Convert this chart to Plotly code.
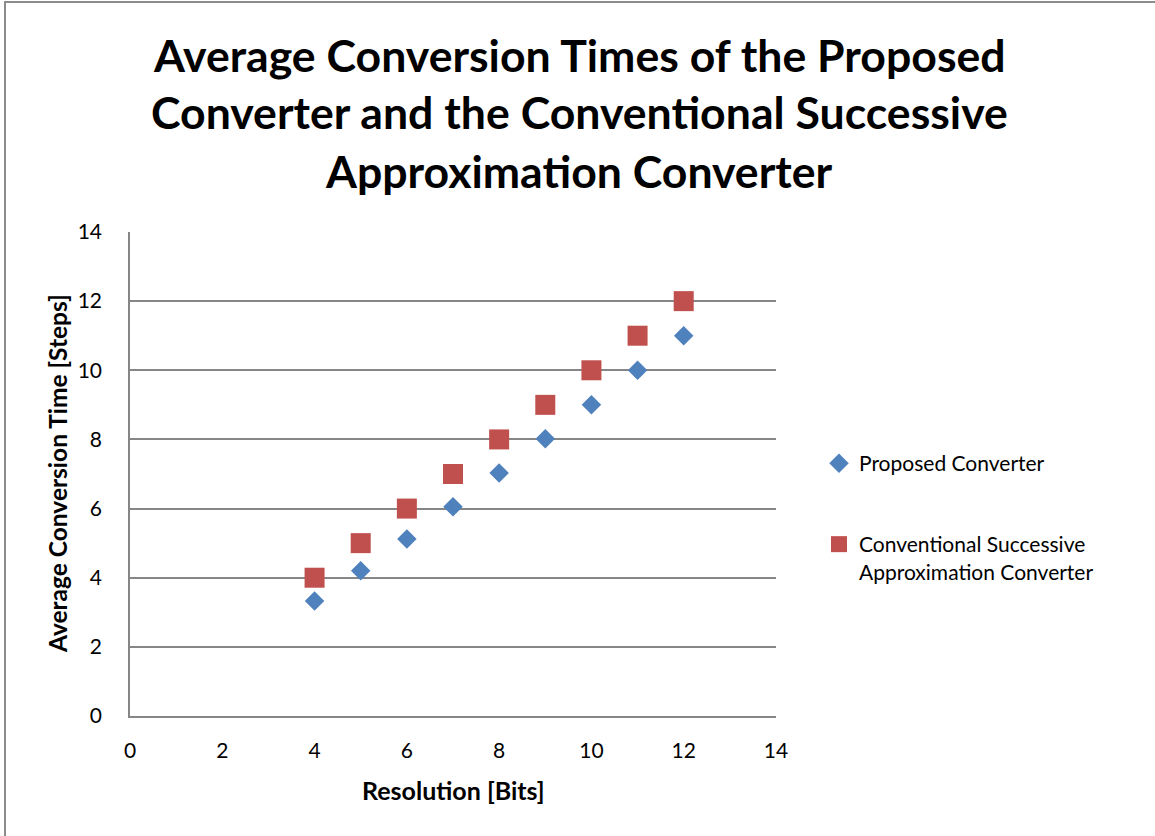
import plotly.graph_objects as go

# Resolution in bits and the average number of conversion steps
resolution_bits = [4, 5, 6, 7, 8, 9, 10, 11, 12]
proposed_steps = [3.33, 4.2, 5.12, 6.05, 7.03, 8.02, 9.0, 10.0, 11.0]
conventional_steps = [4, 5, 6, 7, 8, 9, 10, 11, 12]

axis_ticks = [0, 2, 4, 6, 8, 10, 12, 14]

title_lines = [
    "Average Conversion Times of the Proposed",
    "Converter and the Conventional Successive",
    "Approximation Converter",
]

W, H = 1155, 836
PL, PR, PT, PB = 130, 776, 232, 716  # plot-area edges in pixels

FONT = "Lato"
GRID = "#868686"


def px_x(x):
    return (x - PL) / (PR - PL)


def px_y(y):
    return (PB - y) / (PB - PT)


fig = go.Figure()

fig.add_trace(go.Scatter(
    x=resolution_bits, y=proposed_steps, mode="markers",
    name="Proposed Converter",
    marker=dict(symbol="diamond", size=15, color="#4F81BD",
                line=dict(width=0)),
    legend="legend",
))
fig.add_trace(go.Scatter(
    x=resolution_bits, y=conventional_steps, mode="markers",
    name="Conventional Successive<br>Approximation Converter",
    marker=dict(symbol="square", size=20, color="#C0504D",
                line=dict(width=0)),
    legend="legend2",
))

axis_common = dict(
    range=[0, 14], tickvals=axis_ticks, ticktext=[str(t) for t in axis_ticks],
    showline=True, linecolor=GRID, linewidth=1.5,
    zeroline=False, ticks="outside", tickcolor="rgba(0,0,0,0)",
    tickfont=dict(family=FONT, size=21, color="#000000"),
    fixedrange=True,
)

fig.update_xaxes(showgrid=False, mirror=False, ticklen=15, **axis_common)
fig.update_yaxes(showgrid=True, gridcolor=GRID, gridwidth=1.5, ticklen=22,
                 **axis_common)

annotations = []
for i, line in enumerate(title_lines):
    annotations.append(dict(
        text=f"<b>{line}</b>", xref="paper", yref="paper",
        x=px_x(579), y=px_y(54 + i * 58), xanchor="center", yanchor="middle",
        showarrow=False, font=dict(family=FONT, size=44.6, color="#000000"),
    ))

annotations.append(dict(
    text="<b>Resolution [Bits]</b>", xref="paper", yref="paper",
    x=px_x(453), y=px_y(790), xanchor="center", yanchor="middle",
    showarrow=False, font=dict(family=FONT, size=25, color="#000000"),
))
annotations.append(dict(
    text="<b>Average Conversion Time [Steps]</b>", xref="paper", yref="paper",
    x=px_x(57), y=px_y(474), xanchor="center", yanchor="middle", textangle=-90,
    showarrow=False, font=dict(family=FONT, size=24.5, color="#000000"),
))

legend_style = dict(
    xref="paper", yref="paper", xanchor="left", yanchor="top",
    bgcolor="rgba(0,0,0,0)", borderwidth=0, itemclick=False,
    font=dict(family=FONT, size=21, color="#000000"),
    valign="top", itemwidth=30,
)

fig.update_layout(
    width=W, height=H,
    margin=dict(l=PL, r=W - PR, t=PT, b=H - PB, autoexpand=False),
    paper_bgcolor="#FFFFFF", plot_bgcolor="#FFFFFF",
    showlegend=True,
    legend=dict(x=px_x(819), y=px_y(443), **legend_style),
    legend2=dict(x=px_x(819), y=px_y(524), **legend_style),
    annotations=annotations,
    shapes=[dict(
        type="rect", xref="paper", yref="paper",
        x0=px_x(5), x1=px_x(1170), y0=px_y(850), y1=px_y(2),
        line=dict(color="#8C8C8C", width=2), fillcolor="rgba(0,0,0,0)",
        layer="below",
    )],
)

fig.write_html("out.html")
